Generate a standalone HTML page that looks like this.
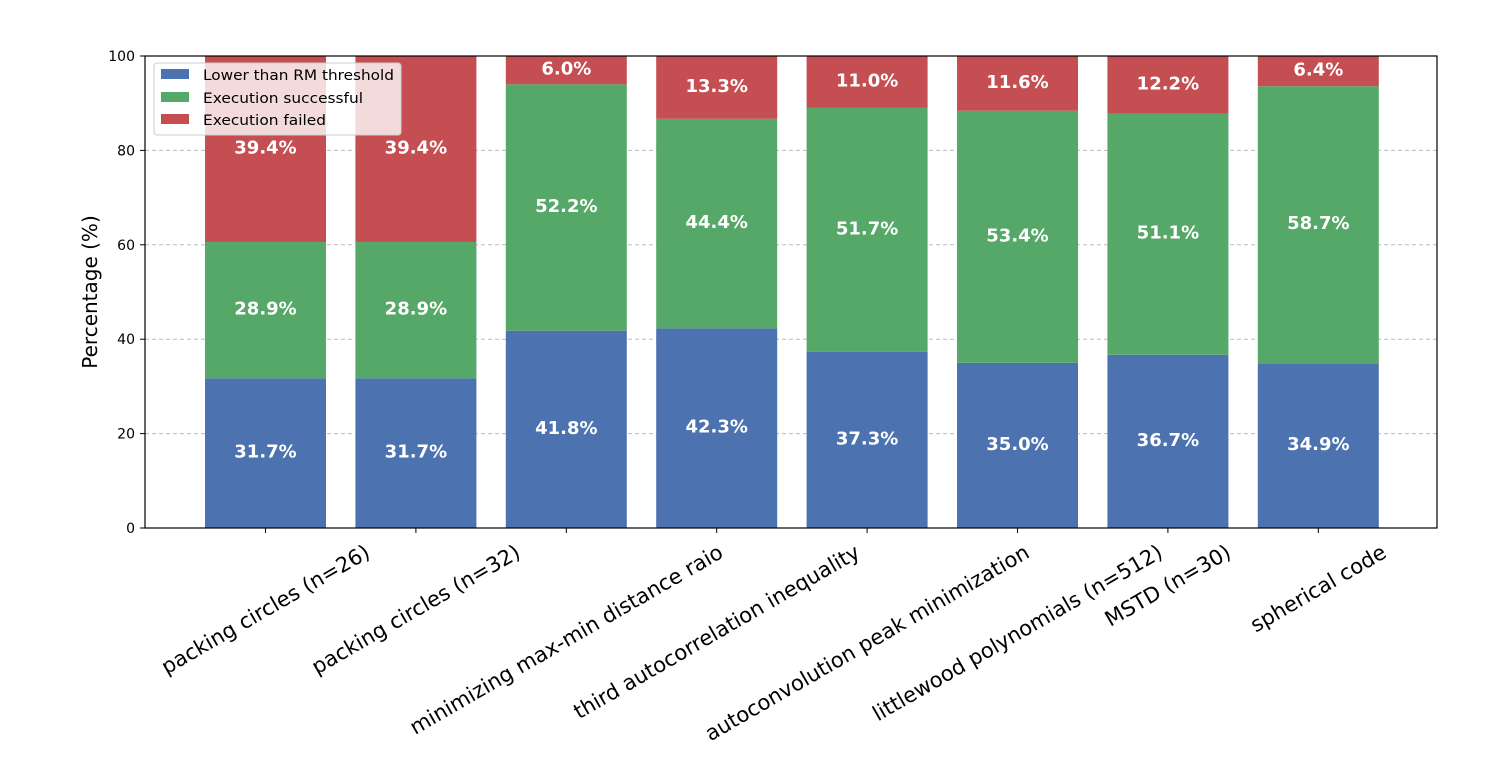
<!DOCTYPE html>
<html><head><meta charset="utf-8"><style>body{margin:0;background:#fff}svg{display:block}</style></head><body>
<svg width="1503" height="773" viewBox="0 0 1503 773" xmlns="http://www.w3.org/2000/svg" font-family="DejaVu Sans, Liberation Sans, sans-serif">
<rect width="1503" height="773" fill="#fff"/>
<g stroke="#bbb" stroke-dasharray="4,3" stroke-width="1">
<line x1="145" x2="1437" y1="433.6" y2="433.6"/><line x1="145" x2="1437" y1="339.2" y2="339.2"/><line x1="145" x2="1437" y1="244.8" y2="244.8"/><line x1="145" x2="1437" y1="150.4" y2="150.4"/>
</g>
<g id="bars"></g>
<rect x="145" y="56" width="1292" height="472" fill="none" stroke="#000" stroke-width="1.2"/>
<g font-size="14" text-anchor="end" fill="#000">
<text x="135" y="533">0</text><text x="135" y="438.6">20</text><text x="135" y="344.2">40</text><text x="135" y="249.8">60</text><text x="135" y="155.4">80</text><text x="135" y="61">100</text>
</g>
<g stroke="#000"><line x1="140" x2="145" y1="528" y2="528"/><line x1="140" x2="145" y1="433.6" y2="433.6"/><line x1="140" x2="145" y1="339.2" y2="339.2"/><line x1="140" x2="145" y1="244.8" y2="244.8"/><line x1="140" x2="145" y1="150.4" y2="150.4"/><line x1="140" x2="145" y1="56" y2="56"/></g>
<text transform="translate(97,292) rotate(-90)" font-size="20" text-anchor="middle">Percentage (%)</text>
<g font-size="14.6">
<rect x="154" y="63" width="247" height="72" fill="#fff" fill-opacity="0.8" stroke="#ccc" rx="3"/>
<rect x="161" y="69" width="28" height="10" fill="#4c72b0"/><text x="203" y="80" textLength="191" lengthAdjust="spacingAndGlyphs">Lower than RM threshold</text>
<rect x="161" y="92" width="28" height="10" fill="#55a868"/><text x="203" y="103" textLength="160" lengthAdjust="spacingAndGlyphs">Execution successful</text>
<rect x="161" y="114" width="28" height="10" fill="#c44e52"/><text x="203" y="125" textLength="123" lengthAdjust="spacingAndGlyphs">Execution failed</text>
</g>
<script>
var d=[["packing circles (n=26)",31.7,28.9,39.4],["packing circles (n=32)",31.7,28.9,39.4],["minimizing max-min distance raio",41.8,52.2,6.0],["third autocorrelation inequality",42.3,44.4,13.3],["autoconvolution peak minimization",37.3,51.7,11.0],["littlewood polynomials (n=512)",35.0,53.4,11.6],["MSTD (n=30)",36.7,51.1,12.2],["spherical code",34.9,58.7,6.4]];
var ns="http://www.w3.org/2000/svg",g=document.getElementById("bars"),svg=g.parentNode;
function el(t,a,p,txt){var e=document.createElementNS(ns,t);for(var k in a)e.setAttribute(k,a[k]);if(txt)e.textContent=txt;(p||g).appendChild(e);return e;}
var cols=["#4c72b0","#55a868","#c44e52"],s=4.72;
d.forEach(function(r,i){var cx=265.5+i*150.4,base=528;
for(var j=0;j<3;j++){var h=r[j+1]*s,y=base-h;if(y<56){h-=56-y;y=56;}
el("rect",{x:cx-60.5,y:y,width:121,height:h,fill:cols[j]});
el("text",{x:cx,y:y+h/2+4.5,"text-anchor":"middle","font-size":"18","font-weight":"bold",fill:"#fff"},null,r[j+1].toFixed(1)+"%");
base=y;}
el("line",{x1:cx,x2:cx,y1:528,y2:533,stroke:"#000"},svg);
var t=el("text",{"text-anchor":"middle","font-size":"21",fill:"#000"},svg,r[0]);
var w=t.getComputedTextLength(),fh=24;
var bh=w*0.5+fh*0.866;
t.setAttribute("transform","translate("+cx+","+(540+bh/2)+") rotate(-30) translate(0,7)");
});
</script>
</svg>
</body></html>
